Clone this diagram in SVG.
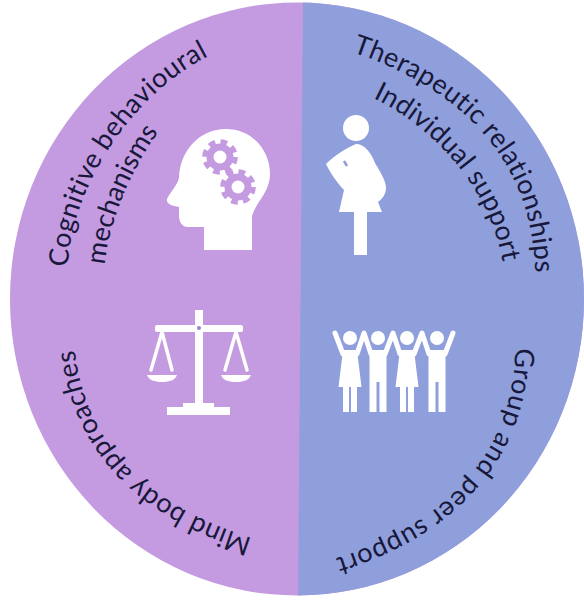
<svg xmlns="http://www.w3.org/2000/svg" xmlns:xlink="http://www.w3.org/1999/xlink" width="584" height="600" viewBox="0 0 584 600">
<style>
.lbl{font-family:Lato,"Open Sans","Liberation Sans",sans-serif;font-size:27px;fill:#17183a}
.w{fill:#fff}
.ws{stroke:#fff;fill:none;stroke-linecap:round}
.pur{fill:#c49ae0}
.gear{fill:none;stroke:#c49ae0;stroke-width:6;stroke-dasharray:6.500 5.130}
</style>
<defs>
<clipPath id="disc"><ellipse cx="297" cy="299" rx="287" ry="296.500"/></clipPath>
<path id="p1" d="M352 52C450 85 530 150 535 268L535 320"/>
<path id="p2" d="M373 98C420 120 485 175 502 258L512 310"/>
<path id="p3" d="M68 267C70 195 125 100 205 58L250 34"/>
<path id="p4" d="M105 265C108 225 130 170 160 130L190 90"/>
<path id="p5" d="M252 538C180 515 90 470 75 353L70 310"/>
<path id="p6" d="M515 348C515 420 480 510 343 556L300 570"/>
<g id="man">
<path class="w" d="M-8.500 12H8.500V74H1.500V44H-1.500V74H-8.500Z"/>
</g>
<g id="woman">
<path class="w" d="M-7 12H7L11.500 49H7V74H1V49H-1V74H-7V49H-11.500Z"/>
</g>
</defs>
<g id="background" clip-path="url(#disc)">
<rect x="0" y="0" width="584" height="600" class="pur"/>
<path d="M303 0L298 600H584V0Z" fill="#8f9fdc"/>
</g>
<g id="node-cognitive">
<path class="w" d="M252 250H204V227H188C182 227 179 222 179 216V207C172 206 166 204 167 199C170 192 177 186 179 178C180 150 200 129 226 129C252 129 270 150 270 174C270 192 256 202 252 216Z"/>
<circle class="pur" cx="220" cy="157" r="13.500"/>
<circle class="gear" cx="220" cy="157" r="14.800"/>
<circle class="w" cx="220" cy="157" r="6.500"/>
<circle class="pur" cx="238" cy="187" r="13.500"/>
<circle class="gear" cx="238" cy="187" r="14.800"/>
<circle class="w" cx="238" cy="187" r="6.500"/>
<text class="lbl" letter-spacing="0.350"><textPath href="#p3" xlink:href="#p3">Cognitive behavioural</textPath></text>
<text class="lbl"><textPath href="#p4" xlink:href="#p4">mechanisms</textPath></text>
</g>
<g id="node-therapeutic">
<circle class="w" cx="356" cy="128" r="13"/>
<path class="w" d="M356 144C364 144 371 152 375 163C380 172 386 180 386 188C386 195 381 200 378 202L382 212H339L344 190C337 183 330 172 326 164C334 156 346 148 356 144Z"/>
<rect class="w" x="354" y="210" width="13" height="45"/>
<path d="M344 161L347 166" stroke="#8f9fdc" stroke-width="2.500"/>
<text class="lbl" letter-spacing="0.400"><textPath href="#p1" xlink:href="#p1">Therapeutic relationships</textPath></text>
<text class="lbl" letter-spacing="0.200"><textPath href="#p2" xlink:href="#p2">Individual support</textPath></text>
</g>
<g id="node-mindbody">
<rect class="w" x="195" y="310" width="8" height="95"/>
<rect class="w" x="155" y="325" width="88" height="7" rx="2"/>
<circle cx="199" cy="328" r="2" fill="#9a85c8"/>
<path class="ws" stroke-width="3.500" d="M162 332L151 370M162 332L172 370M236 332L225 370M236 332L247 370"/>
<path class="w" d="M147 375H177C175 380 170 382 162 382C154 382 149 380 147 375ZM221 375H251C249 380 244 382 236 382C228 382 223 380 221 375Z"/>
<path class="w" d="M183 407V403H214V407H230V415H167V407Z"/>
<text class="lbl" letter-spacing="0.300"><textPath href="#p5" xlink:href="#p5">Mind body approaches</textPath></text>
</g>
<g id="node-group">
<path class="ws" stroke-width="5" stroke-linejoin="round" d="M335 333L343 354H357L364 333L371 354H385L393 333L400 354H414L422 333L429 354H445L453 333"/>
<circle class="w" cx="350" cy="338" r="7"/>
<circle class="w" cx="378" cy="338" r="7"/>
<circle class="w" cx="407" cy="338" r="7"/>
<circle class="w" cx="437" cy="338" r="7"/>
<use href="#woman" xlink:href="#woman" x="350" y="338"/>
<use href="#man" xlink:href="#man" x="378" y="338"/>
<use href="#woman" xlink:href="#woman" x="407" y="338"/>
<use href="#man" xlink:href="#man" x="437" y="338"/>
<text class="lbl" letter-spacing="0.700"><textPath href="#p6" xlink:href="#p6">Group and peer support</textPath></text>
</g>
</svg>
